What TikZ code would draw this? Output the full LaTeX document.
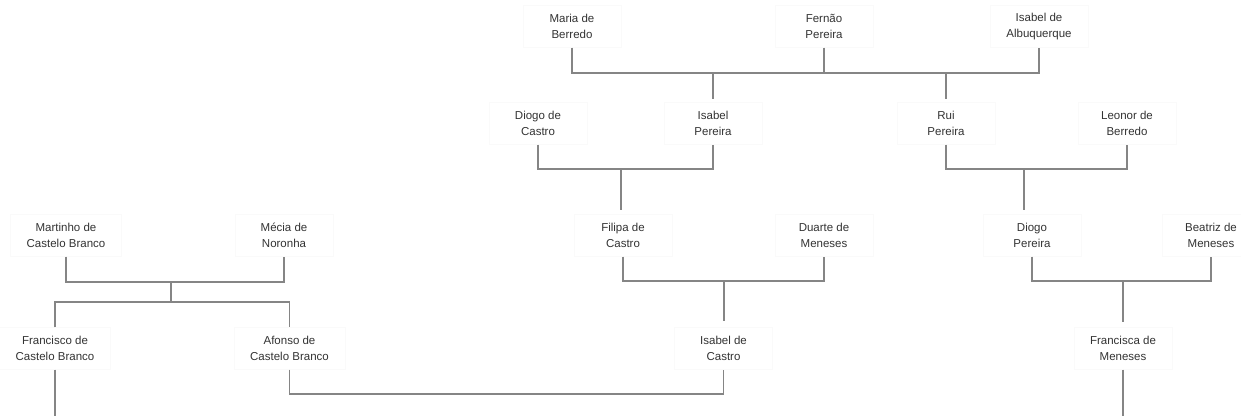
\documentclass[tikz,border=0pt]{standalone}
\usepackage{fontspec}
\setmainfont{Liberation Sans}
\definecolor{txt}{HTML}{333333}
\definecolor{ln}{HTML}{858585}
\definecolor{bx}{HTML}{FAFAFA}
\begin{document}
\begin{tikzpicture}[x=1pt,y=-1pt,
  person/.style={draw=bx, fill=white, minimum width=98pt, minimum height=42pt,
    inner xsep=16pt, inner ysep=2pt, align=center, text=txt,
    font=\fontsize{11.5}{15.5}\selectfont},
  conn/.style={draw=ln, line width=1.1pt}]
\useasboundingbox (0,0) rectangle (1241,416);
% row 1
\node[person] (maria)  at (572,26.5) {Maria de\\Berredo};
\node[person] (fernao) at (824,26.5) {Fernão\\Pereira};
\node[person] (isalb)  at (1039,26.5) {Isabel de\\Albuquerque};
% row 2
\node[person] (diogo)  at (538,123.5) {Diogo de\\Castro};
\node[person] (isaper) at (713,123.5) {Isabel\\Pereira};
\node[person] (rui)    at (946,123.5) {Rui\\Pereira};
\node[person] (leonor) at (1127,123.5) {Leonor de\\Berredo};
% row 3
\node[person] (mart)   at (66,235.5) {Martinho de\\Castelo Branco};
\node[person] (mecia)  at (284,235.5) {Mécia de\\Noronha};
\node[person] (filipa) at (623,235.5) {Filipa de\\Castro};
\node[person] (duarte) at (824,235.5) {Duarte de\\Meneses};
\node[person] (diogop) at (1032,235.5) {Diogo\\Pereira};
\node[person] (beatriz) at (1211,235.5) {Beatriz de\\Meneses};
% row 4
\node[person] (franc)  at (55,348.5) {Francisco de\\Castelo Branco};
\node[person] (afon)   at (289.5,348.5) {Afonso de\\Castelo Branco};
\node[person] (isacas) at (723.5,348.5) {Isabel de\\Castro};
\node[person] (fca)    at (1123,348.5) {Francisca de\\Meneses};
% junction coordinates
\coordinate (j1) at (621,169);
\coordinate (j2) at (1024,169);
\coordinate (j3) at (171,282);
\coordinate (j4) at (724,281);
\coordinate (j5) at (1123,281);
\coordinate (bot) at (0,416);
% connectors row 1
\draw[conn] (maria.south) |- (isalb.south |- 0,73) -- (isalb.south);
\draw[conn, line width=2pt] (fernao.south) -- (fernao.south |- 0,73);
\draw[conn] (isaper.north |- 0,73) -- ([yshift=3pt]isaper.north);
\draw[conn] (rui.north |- 0,73) -- ([yshift=3pt]rui.north);
% row 2
\draw[conn] (diogo.south) |- (isaper.south |- j1) -- (isaper.south);
\draw[conn] (j1) -- ([yshift=4pt]j1 |- filipa.north);
\draw[conn] (rui.south) |- (leonor.south |- j2) -- (leonor.south);
\draw[conn] (j2) -- ([yshift=4pt]j2 |- diogop.north);
% row 3
\draw[conn] (mart.south) |- (mecia.south |- j3) -- (mecia.south);
\draw[conn] (j3) -- (j3 |- 0,302);
\draw[conn] (franc.north) |- (afon.north |- 0,302) -- (afon.north);
\draw[conn] (filipa.south) |- (duarte.south |- j4) -- (duarte.south);
\draw[conn] (j4) -- ([yshift=6pt]j4 |- isacas.north);
\draw[conn] (diogop.south) |- (beatriz.south |- j5) -- (beatriz.south);
\draw[conn] (j5) -- ([yshift=5pt]j5 |- fca.north);
% row 4
\draw[conn] (afon.south) |- (isacas.south |- 0,394) -- (isacas.south);
\draw[conn] (franc.south) -- (franc.south |- bot);
\draw[conn] (fca.south) -- (fca.south |- bot);
\end{tikzpicture}
\end{document}
